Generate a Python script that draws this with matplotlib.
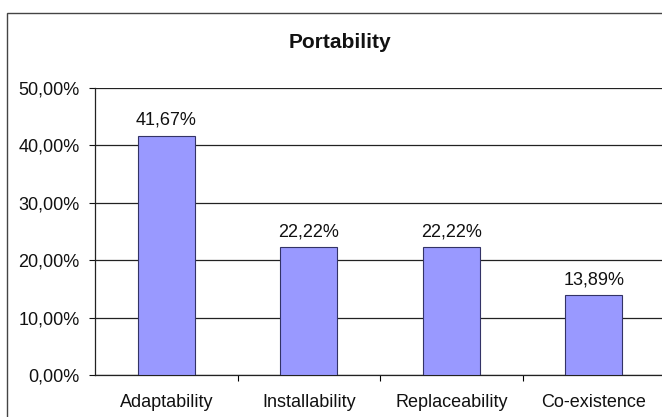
import matplotlib.pyplot as plt
from matplotlib.patches import Rectangle
from matplotlib.ticker import FuncFormatter

categories = ['Adaptability', 'Installability', 'Replaceability', 'Co-existence']
values = [41.67, 22.22, 22.22, 13.89]
yticks = [0, 10, 20, 30, 40, 50]

plt.rcParams['font.family'] = ['Liberation Sans', 'DejaVu Sans']

W, H = 662, 417
fig = plt.figure(figsize=(W / 100, H / 100), dpi=100)
fig.patch.set_facecolor('white')

# outer chart border (cut off on right and bottom like the screenshot)
fig.patches.append(Rectangle((7 / W, -0.2), 1.2, (H - 13) / H + 0.2,
                             transform=fig.transFigure, fill=False,
                             edgecolor='#444444', linewidth=1.0))

ax = fig.add_axes([95 / W, 1 - 375 / H, (665 - 95) / W, (375 - 88) / H])

x = list(range(len(categories)))
ax.bar(x, values, width=0.4, color='#9999ff', edgecolor='#333366',
       linewidth=0.8, zorder=3)

for xi, v in zip(x, values):
    ax.annotate(f'{v:.2f}%'.replace('.', ','), (xi, v), xytext=(0, 5),
                textcoords='offset points', ha='center', va='bottom',
                fontsize=13, color='#111111')

ax.set_xlim(-0.5, 3.5)
ax.set_ylim(0, 50)
ax.set_yticks(yticks)
ax.yaxis.set_major_formatter(FuncFormatter(lambda v, p: f'{v:.2f}%'.replace('.', ',')))
ax.yaxis.grid(True, color='#222222', linewidth=0.9, zorder=0)
ax.set_axisbelow(True)

ax.set_xticks(x)
ax.set_xticklabels(categories)
ax.tick_params(axis='x', length=0, pad=14, labelsize=13, colors='#111111')
ax.set_xticks([0.5, 1.5, 2.5], minor=True)
ax.tick_params(axis='x', which='minor', length=4, width=0.8, direction='out')
ax.tick_params(axis='y', length=4, width=0.8, pad=7, labelsize=13, colors='#111111')

for s in ['top', 'right']:
    ax.spines[s].set_visible(False)
for s in ['left', 'bottom']:
    ax.spines[s].set_linewidth(0.9)
    ax.spines[s].set_color('#222222')

fig.text(340 / W, 1 - 42 / H, 'Portability', ha='center', va='center',
         fontsize=15, fontweight='bold', color='#111111')

fig.savefig('out.png', dpi=100)
